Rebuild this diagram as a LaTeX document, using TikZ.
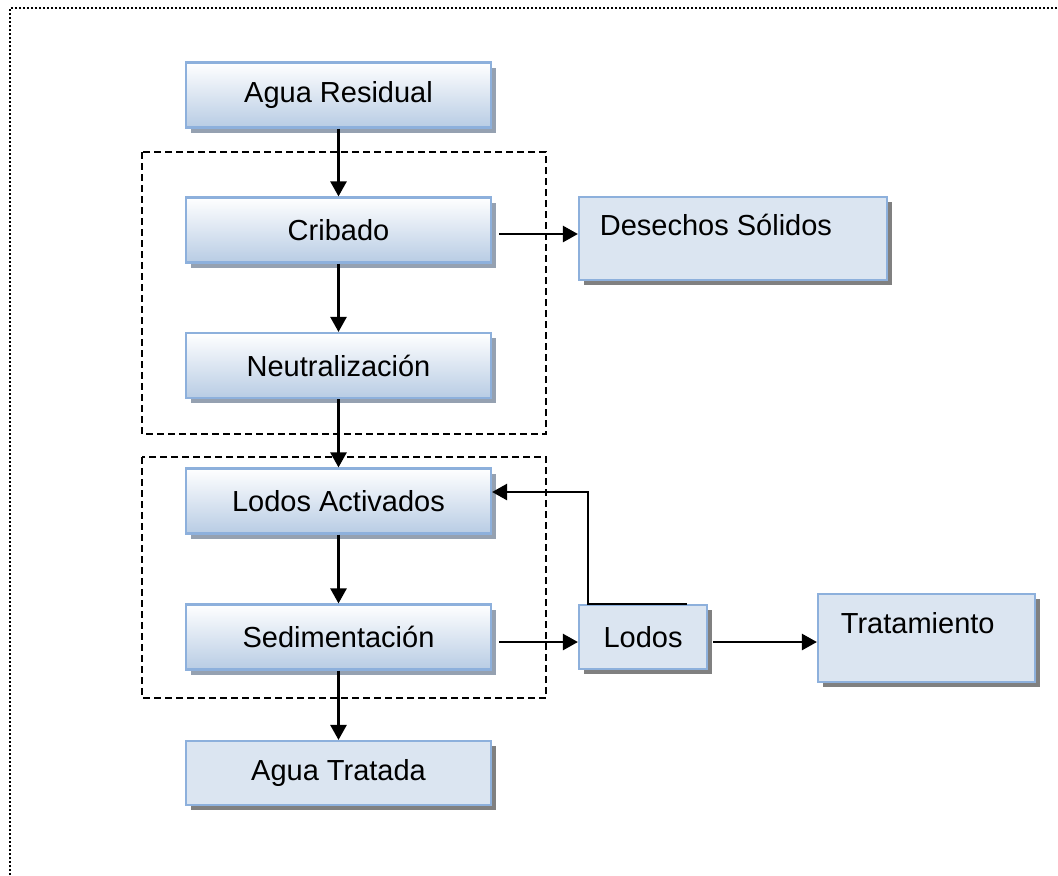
\documentclass[tikz,border=0pt]{standalone}
\usepackage{fontspec}
\setmainfont{Liberation Sans}
\usetikzlibrary{arrows.meta,shadows}
\definecolor{boxedge}{RGB}{141,176,220}
\definecolor{boxblue}{RGB}{184,204,228}
\definecolor{boxflat}{RGB}{219,229,241}
\definecolor{shadowblue}{RGB}{149,161,177}
\definecolor{shadowgray}{RGB}{128,128,128}
\begin{document}
\begin{tikzpicture}[x=0.5pt,y=-0.5pt,
font=\fontsize{14.5}{17}\selectfont,
procbox/.style={rectangle, draw=boxedge, line width=1.1pt, top color=white, bottom color=boxblue,
  minimum width=152.5pt, minimum height=32.5pt,
  drop shadow={shadow xshift=2.5pt, shadow yshift=-2.5pt, fill=shadowblue, opacity=1}},
outbox/.style={rectangle, draw=boxedge, line width=1.1pt, fill=boxflat,
  drop shadow={shadow xshift=2.5pt, shadow yshift=-2.5pt, fill=shadowgray, opacity=1}},
flow/.style={line width=1.3pt, -{Triangle[length=7.5pt,width=8pt]}},
group/.style={line width=0.9pt, dash pattern=on 3.5pt off 2pt}]
\useasboundingbox (0,0) rectangle (1058,875);
\draw[line width=1.2pt, dash pattern=on 1.1pt off 0.9pt] (10,875) -- (10,8) -- (1058,8);
% dashed groups
\draw[group] (142,152) rectangle (546,434);
\draw[group] (142,457) rectangle (546,698);
% main line
\node[procbox] (agua) at (338.5,95) {Agua Residual};
\node[procbox] (cribado) at (338.5,230) {Cribado};
\node[procbox] (neutral) at (338.5,365.5) {Neutralización};
\node[procbox] (lodosact) at (338.5,501) {Lodos Activados};
\node[procbox] (sedim) at (338.5,637) {Sedimentación};
\node[outbox, minimum width=152.5pt, minimum height=32pt] (tratada) at (338.5,773) {Agua Tratada};
% side boxes
\node[outbox, minimum width=154pt, minimum height=41.5pt,
  label={[anchor=west, inner sep=0pt, xshift=10.8pt, yshift=6.75pt]west:Desechos Sólidos}] (desechos) at (733,238.5) {};
\node[outbox, minimum width=64pt, minimum height=32pt] (lodos) at (643,637) {Lodos};
\node[outbox, minimum width=108.5pt, minimum height=44pt,
  label={[anchor=west, inner sep=0pt, xshift=11.8pt, yshift=7.5pt]west:Tratamiento}] (trat) at (926.5,638) {};
% connectors
\draw[flow] (agua) -- (cribado);
\draw[flow] (cribado) -- (neutral);
\draw[flow] (neutral) -- (lodosact);
\draw[flow] (lodosact) -- (sedim);
\draw[flow] (sedim) -- (tratada);
\draw[flow] ([xshift=3.5pt,yshift=-2pt]cribado.east) -- ([yshift=-2pt]cribado.east -| desechos.west);
\draw[flow] ([xshift=3.5pt,yshift=-2.5pt]sedim.east) -- ([yshift=-2.5pt]lodos.west);
\draw[flow] ([xshift=2.5pt,yshift=-2.5pt]lodos.east) -- ([yshift=-2.5pt]lodos.east -| trat.west);
\draw[flow] ([xshift=-10.5pt]lodos.north east) -- ([xshift=5pt]lodos.north west) |- ([yshift=4.5pt]lodosact.east);
\end{tikzpicture}
\end{document}
